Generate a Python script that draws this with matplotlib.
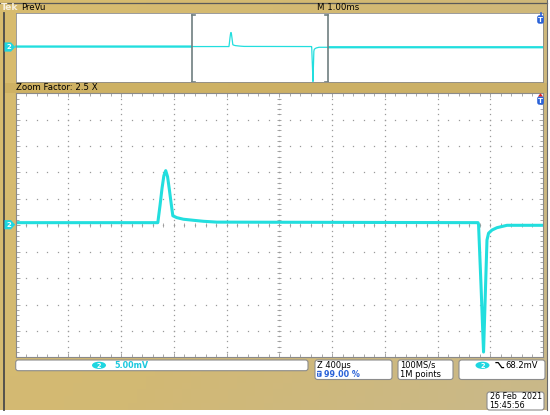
import numpy as np
import matplotlib.pyplot as plt
from matplotlib.patches import Rectangle, FancyBboxPatch, Polygon, Ellipse
from matplotlib.colors import LinearSegmentedColormap

# channel 2 capture: time in us (relative to zoom centre), level in mV
t_us = [-7200, -922, -905, -890, -876, -862, -848, -834, -820, -808, -778, -728,
        -652, -576, -474, 1507, 1511, 1530, 1549, 1575, 1587, 1613, 1651, 1727, 8400]
v_mv = [0.5, 0.5, 3.8, 7.0, 9.4, 10.35, 9.2, 6.7, 4.0, 1.8, 1.45, 1.15,
        0.95, 0.76, 0.6, 0.5, 0.2, -11.5, -24.0, -2.8, -1.5, -0.9, -0.45, 0.0, 0.0]

# zoom window (400us/div, 5mV/div, 10 x 10 divisions)
zoom_t = (-2000, 2000)
zoom_v = (-25, 25)
# preview (whole record) window
prev_t = (-7194, 8314)
prev_v = (-24.6, 23.85)

# status bar texts
top_left = "PreVu"
main_tb = "M 1.00ms"
zoom_text = "Zoom Factor: 2.5 X"
ch_scale = "5.00mV"
zoom_tb = "Z 400µs"
trig_pos = "99.00 %"
rate = "100MS/s"
points = "1M points"
trig_level = "68.2mV"
date_str = "26 Feb  2021"
time_str = "15:45:56"

CYAN = '#22dede'
W, H = 550, 415


def fr(x0, y0, x1, y1):
    # pixel box (from top-left) -> figure fraction rect
    return [x0 / W, 1 - y1 / H, (x1 - x0) / W, (y1 - y0) / H]


fig = plt.figure(figsize=(5.5, 4.15), dpi=100, facecolor='white')

# background (tan screen)
ax_bg = fig.add_axes([0, 0, 1, 1], zorder=0)
ax_bg.set_xlim(0, W)
ax_bg.set_ylim(H, 0)
ax_bg.axis('off')
cmap = LinearSegmentedColormap.from_list('tan', ['#d8bc6e', '#d2b974', '#c9b88a'])
yy, xx = np.mgrid[0:1:60j, 0:1:60j]
ax_bg.imshow(0.65 * xx + 0.35 * yy, cmap=cmap, extent=(0, 547, 410, 0), aspect='auto')
ax_bg.add_patch(Rectangle((4, 83), 543, 10, color='#c9ab5c', alpha=0.6, lw=0))
ax_bg.plot([0, 547], [3.3, 3.3], color='#5a5a5a', lw=0.9)
ax_bg.plot([4.3, 4.3], [13, 410], color='#4a4a4a', lw=1.3)
ax_bg.plot([547, 547], [0, 410], color='#6a6a6a', lw=0.8)

# main zoomed graticule
ax = fig.add_axes(fr(15.7, 93.3, 543, 357.3), zorder=1)
ax.set_facecolor('white')
ax.set_xlim(*zoom_t)
ax.set_ylim(*zoom_v)
ax.set_xticks(np.arange(-2000, 2001, 400))
ax.set_yticks(np.arange(-25, 26, 5))
ax.set_xticks(np.arange(-2000, 2001, 80), minor=True)
ax.set_yticks(np.arange(-25, 26, 1), minor=True)
ax.tick_params(which='both', direction='in', top=True, right=True,
               labelbottom=False, labelleft=False, color='#9a9a9a', width=0.6)
ax.tick_params(which='major', length=3)
ax.tick_params(which='minor', length=2.2)
for s in ax.spines.values():
    s.set_color('#8a8a8a')
    s.set_linewidth(0.8)

gx = np.arange(-2000, 2001, 80)
gy = np.arange(-25, 25.1, 1)
for yv in np.arange(-20, 21, 5):
    ax.plot(gx, np.full(len(gx), yv), ls='none', marker='s', ms=0.9, mew=0, color='#9a9a9a')
for xv in np.arange(-1600, 1601, 400):
    ax.plot(np.full(len(gy), xv), gy, ls='none', marker='s', ms=0.9, mew=0, color='#9a9a9a')
ax.plot(gx, np.zeros(len(gx)), ls='none', marker='|', ms=3.5, mew=0.6, color='#9a9a9a')
ax.plot(np.zeros(len(gy)), gy, ls='none', marker='_', ms=3.5, mew=0.6, color='#9a9a9a')

ax.plot(t_us, v_mv, color=CYAN, lw=2.2, solid_joinstyle='round', solid_capstyle='round')

# preview window
ax_pv = fig.add_axes(fr(15.7, 13.3, 543, 82.3), zorder=1)
ax_pv.set_facecolor('white')
ax_pv.set_xlim(*prev_t)
ax_pv.set_ylim(*prev_v)
ax_pv.set_xticks([])
ax_pv.set_yticks([])
for s in ax_pv.spines.values():
    s.set_color('#8a8a8a')
    s.set_linewidth(0.6)
ax_pv.plot(t_us, v_mv, color=CYAN, lw=0.9)
for x0, x1 in [(prev_t[0] - 10, zoom_t[0]), (zoom_t[1], prev_t[1] + 10)]:
    ln, = ax_pv.plot(t_us, v_mv, color=CYAN, lw=1.6)
    clip = Rectangle((x0, -40), x1 - x0, 80, transform=ax_pv.transData)
    ln.set_clip_path(clip)
tr = ax_pv.get_xaxis_transform()
serif = 3 * (prev_t[1] - prev_t[0]) / 527.3
for xb, d in [(zoom_t[0], 1), (zoom_t[1], -1)]:
    ax_pv.plot([xb, xb], [0.01, 0.975], color='#6f7f80', lw=1.2, transform=tr)
    ax_pv.plot([xb, xb + d * serif], [0.975, 0.975], color='#6f7f80', lw=1.2, transform=tr)
    ax_pv.plot([xb, xb + d * serif], [0.01, 0.01], color='#6f7f80', lw=1.2, transform=tr)

# overlay: labels, markers, status boxes
ov = fig.add_axes([0, 0, 1, 1], zorder=5)
ov.set_xlim(0, W)
ov.set_ylim(H, 0)
ov.axis('off')
ov.patch.set_alpha(0)

ov.text(0.5, 7, "Tek", color='#f6efdc', fontsize=6.6, fontweight='bold', va='center')
ov.text(21, 7.3, top_left, color='black', fontsize=6.2, va='center')
ov.text(317, 7.3, main_tb, color='black', fontsize=6.2, va='center')
ov.text(16, 88, zoom_text, color='black', fontsize=6.2, va='center')

# channel 2 ground markers
for yc in (47.0, 224.7):
    ov.add_patch(Polygon([(4.5, yc - 4.6), (11, yc - 4.6), (15.2, yc), (11, yc + 4.6), (4.5, yc + 4.6)],
                         closed=True, color='#1ed6e0', lw=0))
    ov.text(9.3, yc + 0.3, "2", color='white', fontsize=5, fontweight='bold', ha='center', va='center')

# trigger position markers
for yc, red in ((19.5, False), (100.5, True)):
    ov.add_patch(FancyBboxPatch((537.2, yc - 4.2), 6.6, 8.4, boxstyle='round,pad=0,rounding_size=2.2',
                                color='#2a62d8', lw=0))
    ov.text(540.5, yc + 0.4, "T", color='white', fontsize=5, fontweight='bold', ha='center', va='center')
    if red:
        ov.add_patch(Polygon([(538, 96.5), (543, 96.5), (540.5, 93.3)], color='#e02020', lw=0))
    else:
        ov.plot([540.5, 540.5], [13.5, 15.3], color='#2a62d8', lw=1.2)


def box(x0, y0, x1, y1):
    ov.add_patch(FancyBboxPatch((x0, y0), x1 - x0, y1 - y0, boxstyle='round,pad=0,rounding_size=2.5',
                                facecolor='white', edgecolor='#8c8c8c', lw=0.8))


box(15.7, 360, 308, 370.7)
box(315, 360, 392, 379.5)
box(398, 360, 453, 379.5)
box(459, 360, 545, 379.5)
box(487, 392, 544, 410)

FS = 6.0
ov.add_patch(Ellipse((99, 365.3), 14, 7.2, color='#1ed6e0', lw=0))
ov.text(99, 365.5, "2", color='white', fontsize=4.8, fontweight='bold', ha='center', va='center')
ov.text(114.5, 365.5, ch_scale, color='#1cc8de', fontsize=5.8, fontweight='bold', va='center')

ov.text(317, 365, zoom_tb, color='black', fontsize=FS, va='center')
ov.add_patch(FancyBboxPatch((317, 370.8), 4.6, 6, boxstyle='round,pad=0,rounding_size=1',
                            color='#2a62d8', lw=0))
ov.text(319.3, 374, "T", color='white', fontsize=4, fontweight='bold', ha='center', va='center')
ov.text(324.5, 374.3, trig_pos, color='#2a62d8', fontsize=5.8, fontweight='bold', va='center')

ov.text(400, 365, rate, color='black', fontsize=FS, va='center')
ov.text(400, 374.3, points, color='black', fontsize=FS, va='center')

ov.add_patch(Ellipse((482.5, 365.3), 14, 7.2, color='#1ed6e0', lw=0))
ov.text(482.5, 365.5, "2", color='white', fontsize=4.8, fontweight='bold', ha='center', va='center')
ov.plot([496, 498.2, 501.8, 503.5], [362.6, 362.6, 367.6, 367.6], color='black', lw=0.9)
ov.text(505.5, 365, trig_level, color='black', fontsize=FS, va='center')

ov.text(489.5, 396.8, date_str, color='black', fontsize=5.8, va='center')
ov.text(489.5, 405.3, time_str, color='black', fontsize=5.8, va='center')

fig.savefig('out.png', dpi=100)
